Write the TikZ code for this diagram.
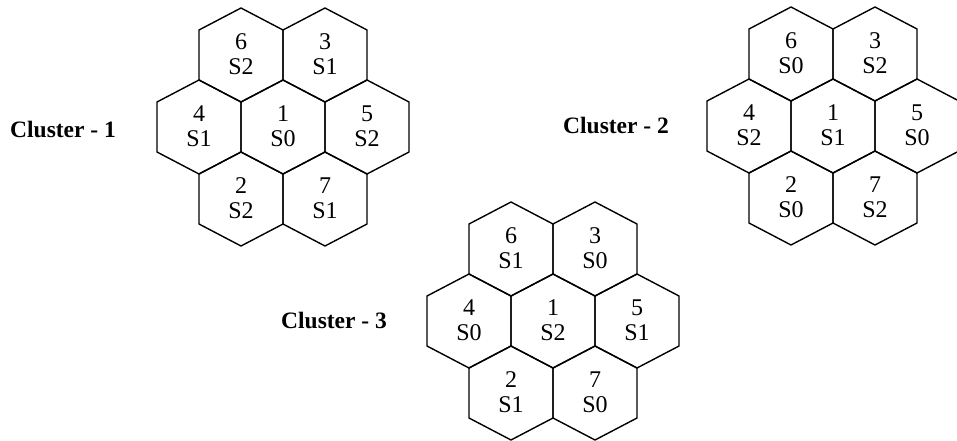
\documentclass[tikz,border=0pt]{standalone}
\usepackage{fontspec}
\setmainfont{Liberation Serif}
\begin{document}
\begin{tikzpicture}[x=1pt,y=1pt,
  hexline/.style={draw=black,line width=1.4pt,line join=round},
  celltext/.style={align=center,inner sep=0pt,font=\fontsize{24}{25}\selectfont},
  clusterlabel/.style={anchor=base west,inner sep=0pt,font=\fontsize{23.5}{25}\selectfont\bfseries},
  hexcell/.pic={\path[hexline] (0,47)--(42,25)--(42,-25)--(0,-47)--(-42,-25)--(-42,25)--cycle;}]
\useasboundingbox (0,0) rectangle (957,440);
\fill[white] (0,0) rectangle (957,440);
% clusters: id / centre x / centre y / labels of cells 1,6,3,4,5,2,7
\foreach \c/\cx/\cy/\la/\lb/\lc/\ld/\le/\lf/\lg in
  {1/283/313/S0/S2/S1/S1/S2/S2/S1,
   2/833/314/S1/S0/S2/S2/S0/S0/S2,
   3/553/119/S2/S1/S0/S0/S1/S1/S0}{
  \foreach \n/\dx/\dy/\s in {1/0/0/\la,6/-42/72/\lb,3/42/72/\lc,4/-84/0/\ld,5/84/0/\le,2/-42/-72/\lf,7/42/-72/\lg}{
    \pic at (\cx+\dx,\cy+\dy) {hexcell};
    \node[celltext] (c\c n\n) at (\cx+\dx,\cy+\dy+0.5) {\n\\\s};
  }
}
\node[clusterlabel] (lab1) at (10,303) {Cluster - 1};
\node[clusterlabel] (lab2) at (563,307) {Cluster - 2};
\node[clusterlabel] (lab3) at (281,112) {Cluster - 3};
\end{tikzpicture}
\end{document}
